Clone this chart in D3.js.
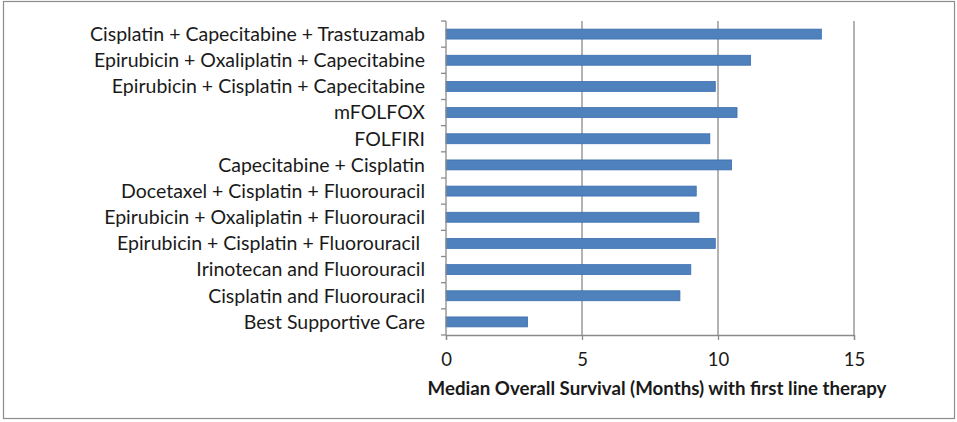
<!DOCTYPE html>
<html>
<head>
<meta charset="utf-8">
<script src="https://cdn.jsdelivr.net/npm/d3@7"></script>
<style>
  body { margin: 0; background: #fff; }
  text { font-family: Lato, "Open Sans", sans-serif; }
</style>
</head>
<body>
<div id="chart-area"></div>
<script>
// Data, top row first
var therapies = [
    "Cisplatin + Capecitabine + Trastuzamab",
    "Epirubicin + Oxaliplatin + Capecitabine",
    "Epirubicin + Cisplatin + Capecitabine",
    "mFOLFOX",
    "FOLFIRI",
    "Capecitabine + Cisplatin",
    "Docetaxel + Cisplatin + Fluorouracil",
    "Epirubicin + Oxaliplatin + Fluorouracil",
    "Epirubicin + Cisplatin + Fluorouracil ",
    "Irinotecan and Fluorouracil",
    "Cisplatin and Fluorouracil",
    "Best Supportive Care"
];
var survival = [13.8, 11.2, 9.9, 10.7, 9.7, 10.5, 9.2, 9.3, 9.9, 9.0, 8.6, 3.0];
var xTicks = [0, 5, 10, 15];
var xTitle = "Median Overall Survival (Months) with first line therapy";

var W = 957, H = 422;
var margin = { left: 446, right: 103, top: 21, bottom: 87 };
var width = W - margin.left - margin.right,
    height = H - margin.top - margin.bottom;

var svg = d3.select("#chart-area")
    .append("svg")
        .attr("width", W)
        .attr("height", H);

// Outer frame
svg.append("rect")
    .attr("x", 3.5).attr("y", 1.5)
    .attr("width", W - 6).attr("height", H - 5)
    .attr("fill", "none")
    .attr("stroke", "#8c8c8c")
    .attr("stroke-width", 1.2);

var g = svg.append("g")
    .attr("transform", "translate(" + margin.left + ", " + margin.top + ")");

// Scales
var x = d3.scaleLinear()
    .domain([0, 15])
    .range([0, width]);

var y = d3.scaleBand()
    .domain(therapies)
    .range([0, height])
    .paddingInner(0.62)
    .paddingOuter(0.31);

// Gridlines
g.selectAll("line.grid")
    .data(xTicks.slice(1))
    .enter().append("line")
        .attr("class", "grid")
        .attr("x1", function(d){ return x(d); })
        .attr("x2", function(d){ return x(d); })
        .attr("y1", 0)
        .attr("y2", height)
        .attr("stroke", "#8a8a8a")
        .attr("stroke-width", 1.3);

// Bars
g.selectAll("rect.bar")
    .data(survival)
    .enter().append("rect")
        .attr("class", "bar")
        .attr("x", x(0))
        .attr("y", function(d, i){ return y(therapies[i]); })
        .attr("width", function(d){ return x(d) - x(0); })
        .attr("height", y.bandwidth())
        .attr("fill", "#4f81bd")
        .attr("stroke", "#3c6fb0")
        .attr("stroke-width", 0.8);

// X Axis
var xAxisCall = d3.axisBottom(x)
    .tickValues(xTicks)
    .tickSize(5)
    .tickPadding(13)
    .tickFormat(function(d){ return "" + d; });
var xAxis = g.append("g")
    .attr("transform", "translate(0," + height + ")")
    .call(xAxisCall);
xAxis.select(".domain").attr("stroke", "#8a8a8a").attr("stroke-width", 1.3);
xAxis.selectAll(".tick line").attr("stroke", "#8a8a8a").attr("stroke-width", 1.3);
xAxis.selectAll(".tick text")
    .attr("font-size", "18.5px")
    .attr("font-family", "Lato, sans-serif")
    .attr("fill", "#1a1a1a");

// Y Axis: line and ticks at band boundaries
g.append("line")
    .attr("x1", 0).attr("x2", 0)
    .attr("y1", 0).attr("y2", height)
    .attr("stroke", "#8a8a8a")
    .attr("stroke-width", 1.3);

var step = y.step();
g.selectAll("line.ytick")
    .data(d3.range(therapies.length + 1))
    .enter().append("line")
        .attr("class", "ytick")
        .attr("x1", -5).attr("x2", 0)
        .attr("y1", function(d){ return d * step; })
        .attr("y2", function(d){ return d * step; })
        .attr("stroke", "#8a8a8a")
        .attr("stroke-width", 1.3);

// Y labels
g.selectAll("text.ylabel")
    .data(therapies)
    .enter().append("text")
        .attr("class", "ylabel")
        .attr("x", -21)
        .attr("y", function(d){ return y(d) + y.bandwidth() / 2; })
        .attr("dy", "0.35em")
        .attr("text-anchor", "end")
        .attr("font-size", "19.5px")
        .attr("fill", "#1a1a1a")
        .style("white-space", "pre")
        .text(function(d){ return d; });

// X Label
g.append("text")
    .attr("x", width / 2 + 7)
    .attr("y", height + 60)
    .attr("text-anchor", "middle")
    .attr("font-size", "18.7px")
    .attr("font-weight", "bold")
    .attr("fill", "#1a1a1a")
    .text(xTitle);
</script>
</body>
</html>
